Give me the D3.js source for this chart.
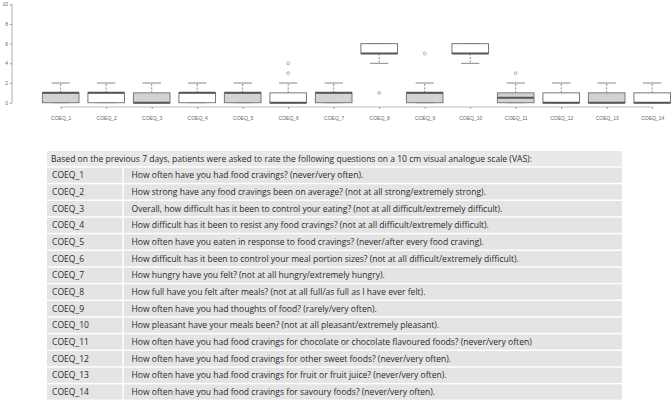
<!DOCTYPE html>
<html>
<head>
<meta charset="utf-8">
<script src="https://cdn.jsdelivr.net/npm/d3@7"></script>
<style>
  body { margin: 0; background: #fff; }
  svg { display: block; }
</style>
</head>
<body>
<svg id="chart" width="672" height="403"></svg>
<script>
// box plot stats
var items = ["COEQ_1","COEQ_2","COEQ_3","COEQ_4","COEQ_5","COEQ_6","COEQ_7",
             "COEQ_8","COEQ_9","COEQ_10","COEQ_11","COEQ_12","COEQ_13","COEQ_14"];
var whiskLo = [0, 0, 0, 0, 0, 0, 0, 4, 0, 4, 0, 0, 0, 0];
var q1      = [0, 0, 0, 0, 0, 0, 0, 5, 0, 5, 0, 0, 0, 0];
var median  = [1, 1, 0, 1, 1, 0, 1, 5, 1, 5, 0.5, 0, 0, 0];
var q3      = [1, 1, 1, 1, 1, 1, 1, 6, 1, 6, 1, 1, 1, 1];
var whiskHi = [2, 2, 2, 2, 2, 2, 2, 6, 2, 6, 2, 2, 2, 2];
var outliers = [[], [], [], [], [], [3, 4], [], [1], [5], [], [3], [], [], []];
var yTicks = [0, 2, 4, 6, 8, 10];

var header = "Based on the previous 7 days, patients were asked to rate the following questions on a 10 cm visual analogue scale (VAS):";
var questions = [
  "How often have you had food cravings? (never/very often).",
  "How strong have any food cravings been on average? (not at all strong/extremely strong).",
  "Overall, how difficult has it been to control your eating? (not at all difficult/extremely difficult).",
  "How difficult has it been to resist any food cravings? (not at all difficult/extremely difficult).",
  "How often have you eaten in response to food cravings? (never/after every food craving).",
  "How difficult has it been to control your meal portion sizes? (not at all difficult/extremely difficult).",
  "How hungry have you felt? (not at all hungry/extremely hungry).",
  "How full have you felt after meals? (not at all full/as full as I have ever felt).",
  "How often have you had thoughts of food? (rarely/very often).",
  "How pleasant have your meals been? (not at all pleasant/extremely pleasant).",
  "How often have you had food cravings for chocolate or chocolate flavoured foods? (never/very often)",
  "How often have you had food cravings for other sweet foods? (never/very often).",
  "How often have you had food cravings for fruit or fruit juice? (never/very often).",
  "How often have you had food cravings for savoury foods? (never/very often)."
];

var svg = d3.select("#chart");

// ---- box plot ----
var x = d3.scalePoint().domain(items).range([60.7, 652.2]);
var y = d3.scaleLinear().domain([0, 10]).range([102.7, 4.3]);
var halfW = 18.3;

var plot = svg.append("g").attr("class", "plot");

var yAxis = plot.append("g")
  .attr("transform", "translate(12,0)")
  .call(d3.axisLeft(y).tickValues(yTicks).tickSize(2).tickPadding(2));
var xAxis = plot.append("g")
  .attr("transform", "translate(0,107)")
  .call(d3.axisBottom(x).tickSize(2).tickPadding(7));

[yAxis, xAxis].forEach(function(a){
  a.select(".domain").attr("stroke", "#bbb").attr("stroke-width", 1.2);
  a.selectAll(".tick line").attr("stroke", "#999");
  a.selectAll("text").attr("fill", "#666").style("font-family", "Liberation Sans, Arial, sans-serif").style("font-size", "5px");
});
// R draws the x axis line only between the first and last tick
xAxis.select(".domain").attr("d", "M" + x(items[0]) + ",0H" + x(items[items.length - 1]));
yAxis.select(".domain").attr("d", "M0," + y(0) + "V" + y(10));

var boxes = plot.selectAll(".box").data(items).enter().append("g").attr("class", "box");

boxes.each(function(d, i){
  var g = d3.select(this), cx = x(d);
  // whiskers, dashed
  g.append("line").attr("x1", cx).attr("x2", cx).attr("y1", y(q3[i])).attr("y2", y(whiskHi[i]))
    .attr("stroke", "#888").attr("stroke-dasharray", "2,1.5");
  g.append("line").attr("x1", cx).attr("x2", cx).attr("y1", y(q1[i])).attr("y2", y(whiskLo[i]))
    .attr("stroke", "#888").attr("stroke-dasharray", "2,1.5");
  // staples
  [whiskHi[i], whiskLo[i]].forEach(function(v){
    g.append("line").attr("x1", cx - halfW / 2).attr("x2", cx + halfW / 2).attr("y1", y(v)).attr("y2", y(v))
      .attr("stroke", "#888");
  });
  g.append("rect")
    .attr("x", cx - halfW).attr("width", halfW * 2)
    .attr("y", y(q3[i])).attr("height", y(q1[i]) - y(q3[i]))
    .attr("fill", i % 2 === 0 ? "#d3d3d3" : "#fff")
    .attr("stroke", "#777").attr("stroke-width", 1);
  g.append("line").attr("x1", cx - halfW).attr("x2", cx + halfW).attr("y1", y(median[i])).attr("y2", y(median[i]))
    .attr("stroke", "#555").attr("stroke-width", 2);
  g.selectAll("circle").data(outliers[i]).enter().append("circle")
    .attr("cx", cx).attr("cy", function(v){ return y(v); }).attr("r", 1.4)
    .attr("fill", "none").attr("stroke", "#999").attr("stroke-width", 0.8);
});

// ---- question table ----
var tx0 = 47, tx1 = 622, colX = 123, ty0 = 151, rowH = 16.67;
var rows = [header].concat(questions);
var table = svg.append("g").attr("class", "table")
  .style("font-family", "'Open Sans', sans-serif").style("font-size", "8.55px");

table.selectAll("rect.row").data(rows).enter().append("rect")
  .attr("class", "row")
  .attr("x", tx0).attr("width", tx1 - tx0)
  .attr("y", function(d, i){ return ty0 + i * rowH; })
  .attr("height", rowH - 1.5)
  .attr("fill", function(d, i){ return i === 0 ? "#e9e9e9" : "#e4e4e4"; });

table.append("line")
  .attr("x1", colX).attr("x2", colX).attr("y1", ty0 + rowH).attr("y2", ty0 + rows.length * rowH)
  .attr("stroke", "#fff").attr("stroke-width", 1.5);

table.append("text").attr("x", tx0 + 4).attr("y", ty0 + 10.5).attr("fill", "#2a2a2a").text(header);

table.selectAll("text.code").data(items).enter().append("text")
  .attr("class", "code")
  .attr("x", tx0 + 5).attr("y", function(d, i){ return ty0 + (i + 1) * rowH + 10.5; })
  .attr("fill", "#2a2a2a").text(function(d){ return d; });

table.selectAll("text.q").data(questions).enter().append("text")
  .attr("class", "q")
  .attr("x", colX + 8.5).attr("y", function(d, i){ return ty0 + (i + 1) * rowH + 10.5; })
  .attr("fill", "#2a2a2a").text(function(d){ return d; });
</script>
</body>
</html>
